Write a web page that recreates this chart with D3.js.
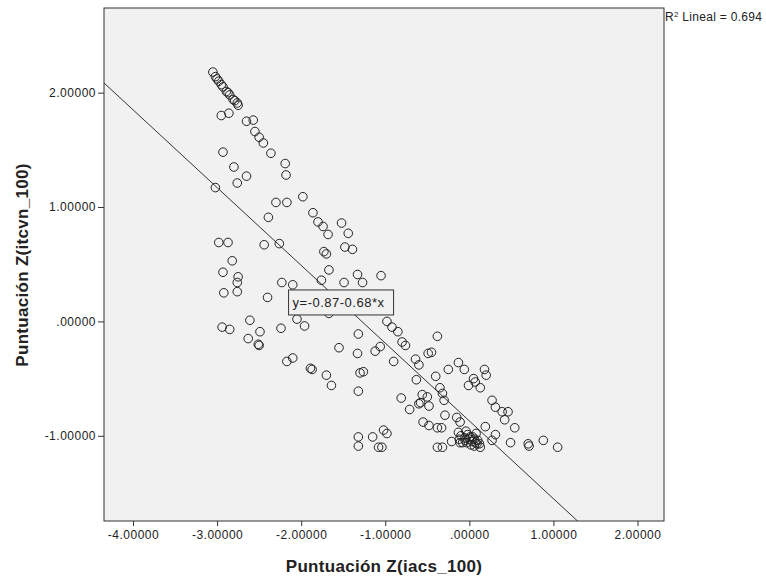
<!DOCTYPE html>
<html>
<head>
<meta charset="utf-8">
<script src="https://cdn.jsdelivr.net/npm/d3@7"></script>
<style>
  body { margin: 0; background: #fff; }
  text { font-family: "Liberation Sans", Arial, sans-serif; fill: #222; }
</style>
</head>
<body>
<div id="wrap"></div>
<script>
var w = 766;
var h = 582;

// Puntuación Z(iacs_100)
var zIacs = [
  -3.05, -3.02, -3.00, -2.98, -2.95, -2.93, -2.89, -2.87, -2.85, -2.81, -2.79, -2.76, -2.75,
  -2.95, -2.86, -2.65, -2.57, -2.55, -2.50, -2.45, -2.36, -2.19, -2.18,
  -2.93, -2.80, -2.65, -2.76, -3.02, -1.98, -2.30, -2.17, -2.39,
  -1.86, -1.80, -1.74, -1.68, -1.52, -1.44,
  -2.98, -2.87, -2.44, -2.26, -1.73, -1.70, -1.48, -1.39,
  -2.82, -2.93, -2.75, -2.76, -2.92, -2.76, -2.40, -2.23, -2.10,
  -1.67, -1.76, -1.49, -1.33, -1.27, -1.05,
  -1.67, -2.05, -1.96, -2.61, -2.94, -2.85, -2.49, -2.24, -2.63, -2.51, -2.50,
  -0.98, -0.92, -0.85, -0.80, -0.76, -1.06, -0.38, -0.45, -0.90, -0.64, -0.60, -0.63,
  -1.32, -1.12, -1.55, -1.33, -2.17, -2.10, -1.89, -1.87, -1.70, -1.64,
  -1.30, -1.26, -1.32, -0.40, -0.25, -0.13, -0.06, 0.18, 0.20, 0.05, 0.07, -0.01, 0.13,
  -0.35, -0.32, -0.30, -0.81, -0.56, -0.60, -0.48, -0.71,
  0.27, 0.31, 0.39, 0.46, 0.42, -0.55, -0.48, -0.38, -0.33, -0.29, -0.15, -0.11,
  -0.13, -0.04, 0.01, -0.05, 0.07, 0.13, 0.19, 0.31, 0.27, 0.54, 0.49, 0.70, 0.71, 0.88, 1.05,
  -0.38, -0.32, -0.21, -0.11, -1.02, -0.98, -1.04, -1.32, -1.32, -1.15, -1.08,
  -0.58, -0.50, -0.49,
  -0.10, -0.05, 0.00, 0.03, 0.06, 0.09, -0.08, 0.02, -0.02, 0.04, 0.10, -0.12, 0.12, 0.06, -0.03, 0.08
];

// Puntuación Z(itcvn_100)
var zItcvn = [
  2.18, 2.14, 2.12, 2.10, 2.07, 2.05, 2.01, 2.00, 1.98, 1.94, 1.93, 1.91, 1.89,
  1.80, 1.82, 1.75, 1.76, 1.66, 1.61, 1.56, 1.47, 1.38, 1.28,
  1.48, 1.35, 1.27, 1.21, 1.17, 1.09, 1.04, 1.04, 0.91,
  0.95, 0.87, 0.83, 0.76, 0.86, 0.77,
  0.69, 0.69, 0.67, 0.68, 0.61, 0.59, 0.65, 0.63,
  0.53, 0.43, 0.39, 0.34, 0.25, 0.26, 0.21, 0.34, 0.32,
  0.45, 0.36, 0.34, 0.41, 0.34, 0.40,
  0.07, 0.02, -0.04, 0.01, -0.05, -0.07, -0.09, -0.06, -0.15, -0.20, -0.21,
  0.00, -0.05, -0.09, -0.18, -0.21, -0.22, -0.13, -0.27, -0.35, -0.33, -0.38, -0.51,
  -0.11, -0.26, -0.23, -0.28, -0.35, -0.32, -0.41, -0.42, -0.47, -0.56,
  -0.45, -0.44, -0.61, -0.48, -0.42, -0.36, -0.42, -0.42, -0.47, -0.50, -0.53, -0.56, -0.58,
  -0.58, -0.63, -0.69, -0.67, -0.64, -0.72, -0.74, -0.77,
  -0.69, -0.75, -0.79, -0.79, -0.86, -0.88, -0.91, -0.93, -0.93, -0.82, -0.84, -0.88,
  -0.97, -0.96, -1.01, -1.04, -1.06, -1.10, -0.92, -0.99, -1.04, -0.93, -1.06, -1.07, -1.09, -1.04, -1.10,
  -1.10, -1.10, -1.05, -1.06, -0.95, -0.98, -1.10, -1.01, -1.09, -1.01, -1.10,
  -0.71, -0.66, -0.28,
  -1.00, -1.02, -1.03, -1.05, -1.03, -1.07, -1.06, -1.08, -0.99, -1.01, -1.04, -1.03, -1.07, -1.09, -1.06, -0.98
];

var xTicks = [-4, -3, -2, -1, 0, 1, 2];
var yTicks = [-1, 0, 1, 2];
var fitIntercept = -0.87;
var fitSlope = -0.68;
var rSquared = 0.694;

var pLeft = 104, pRight = 664, pTop = 8, pBottom = 521;

var svg = d3.select("#wrap").append("svg").attr("width", w).attr("height", h);

var x = d3.scaleLinear().domain([-4.345, 2.315]).range([pLeft, pRight]);
var y = d3.scaleLinear().domain([-1.745, 2.74]).range([pBottom, pTop]);

function fmt(v) {
  if (v === 0) return ".00000";
  return (v < 0 ? "-" : "") + Math.abs(v).toFixed(5);
}

svg.append("rect")
  .attr("x", pLeft).attr("y", pTop)
  .attr("width", pRight - pLeft).attr("height", pBottom - pTop)
  .attr("fill", "#f1f1f1");

svg.append("clipPath").attr("id", "plot")
  .append("rect")
  .attr("x", pLeft).attr("y", pTop)
  .attr("width", pRight - pLeft).attr("height", pBottom - pTop);

// fit line, clipped to the frame
var x0 = x.domain()[0], x1 = x.domain()[1];
svg.append("line")
  .attr("clip-path", "url(#plot)")
  .attr("x1", x(x0)).attr("y1", y(fitIntercept + fitSlope * x0))
  .attr("x2", x(x1)).attr("y2", y(fitIntercept + fitSlope * x1))
  .attr("stroke", "#333").attr("stroke-width", 1);

var pts = zIacs.map(function(d, i) { return [d, zItcvn[i]]; });
svg.append("g").selectAll("circle").data(pts).enter().append("circle")
  .attr("cx", function(d) { return x(d[0]); })
  .attr("cy", function(d) { return y(d[1]); })
  .attr("r", 4.3)
  .attr("fill", "none")
  .attr("stroke", "#222")
  .attr("stroke-width", 1);

// equation label
var lx = -2.15, ly = 0.275;
var eq = svg.append("g");
eq.append("rect")
  .attr("x", x(lx)).attr("y", y(ly))
  .attr("width", 105).attr("height", 25)
  .attr("fill", "#f1f1f1").attr("stroke", "#333");
eq.append("text")
  .attr("x", x(lx) + 4).attr("y", y(ly) + 17)
  .style("font-size", "13px").style("letter-spacing", "0.5px")
  .text("y=" + fitIntercept.toFixed(2) + fitSlope.toFixed(2) + "*x");

svg.append("rect")
  .attr("x", pLeft).attr("y", pTop)
  .attr("width", pRight - pLeft).attr("height", pBottom - pTop)
  .attr("fill", "none").attr("stroke", "#333");

var xAxis = svg.append("g")
  .attr("transform", "translate(0," + pBottom + ")")
  .call(d3.axisBottom(x).tickValues(xTicks).tickFormat(fmt).tickSize(5).tickPadding(4));
var yAxis = svg.append("g")
  .attr("transform", "translate(" + pLeft + ",0)")
  .call(d3.axisLeft(y).tickValues(yTicks).tickFormat(fmt).tickSize(6).tickPadding(2));

[xAxis, yAxis].forEach(function(g) {
  g.select(".domain").remove();
  g.selectAll("line").attr("stroke", "#333");
  g.selectAll("text")
    .style("font-family", "'Liberation Sans', Arial, sans-serif")
    .style("font-size", "12px").style("letter-spacing", "0.5px")
    .attr("fill", "#222");
});

svg.append("text")
  .attr("x", (pLeft + pRight) / 2).attr("y", 572)
  .attr("text-anchor", "middle")
  .style("font-size", "17px").style("font-weight", "bold").style("letter-spacing", "0.3px")
  .text("Puntuación Z(iacs_100)");

svg.append("text")
  .attr("transform", "translate(28," + 265 + ") rotate(-90)")
  .attr("text-anchor", "middle")
  .style("font-size", "17px").style("font-weight", "bold").style("letter-spacing", "0.3px")
  .text("Puntuación Z(itcvn_100)");

var r2 = svg.append("text")
  .attr("x", pRight + 1).attr("y", 21)
  .style("font-size", "12px").style("letter-spacing", "0.3px");
r2.append("tspan").text("R");
r2.append("tspan").attr("dy", -4).style("font-size", "8px").text("2");
r2.append("tspan").attr("dy", 4).text(" Lineal = " + rSquared.toFixed(3));
</script>
</body>
</html>
